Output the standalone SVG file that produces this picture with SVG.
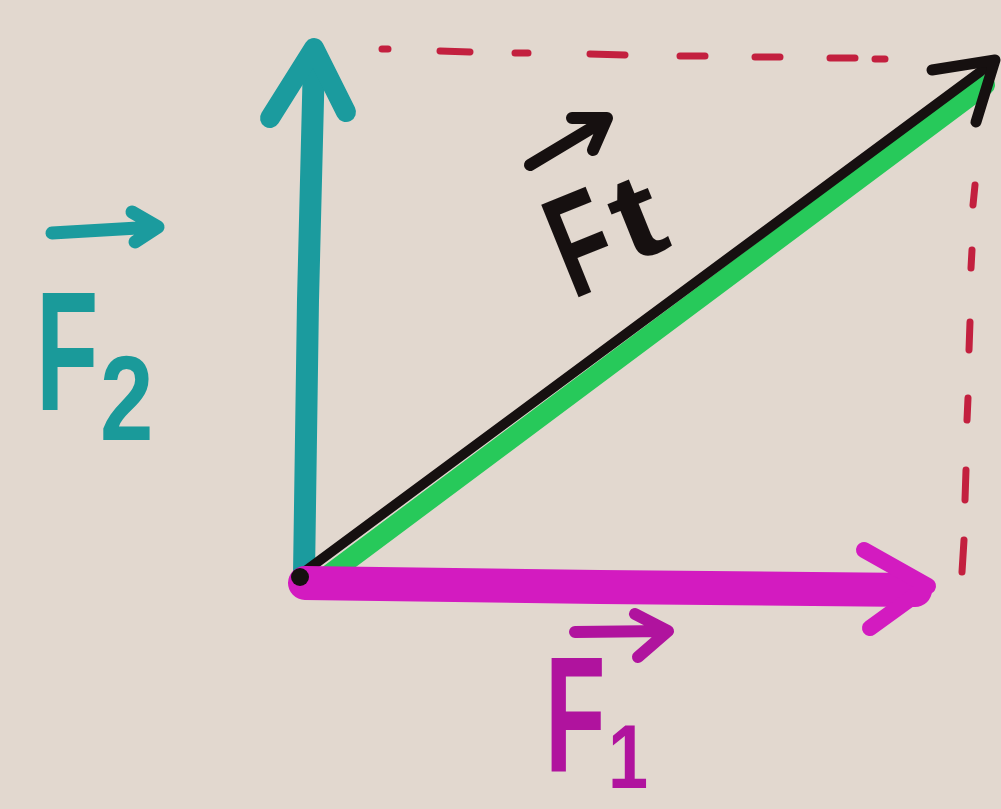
<svg xmlns="http://www.w3.org/2000/svg" width="1001" height="809" viewBox="0 0 1001 809">
<defs>
<style>
.teal{stroke:#1b9b9e;fill:none;stroke-linecap:round;stroke-linejoin:round}
.mag{stroke:#d31bc0;fill:none;stroke-linecap:round;stroke-linejoin:round}
.blk{stroke:#161010;fill:none;stroke-linecap:round;stroke-linejoin:round}
.grn{stroke:#27c95a;fill:none;stroke-linecap:round}
.dash{stroke:#c3203f;fill:none;stroke-width:7;stroke-linecap:round}
.lbl{font-family:"Liberation Sans",sans-serif;font-weight:bold}
</style>
</defs>
<rect width="1001" height="809" fill="#e2d8cf"/>
<g id="connectors">
<g id="dashes">
<path class="dash" d="M382 49 L388 49 M440 51 L470 52 M515 53 L528 53 M590 54 L625 55 M680 56 L705 56 M755 57 L780 57 M830 58 L855 58 M875 59 L885 59"/>
<path class="dash" d="M975 185 L973 205 M972 250 L971 268 M970 322 L969 350 M968 398 L967 420 M966 470 L965 500 M964 540 L962 572"/>
</g>
<g id="F2-vector">
<path class="teal" stroke-width="22" d="M304 575 L308 300 L314 60"/>
<path class="teal" stroke-width="20" d="M270 118 L314 48 L346 112"/>
</g>
<g id="Ft-vector">
<path class="grn" stroke-width="20" d="M315 585 L985 85"/>
<path class="blk" stroke-width="10" d="M300 575 L992 63"/>
<path class="blk" stroke-width="11" d="M932 70 L995 60 L976 122"/>
</g>
<g id="F1-vector">
<path class="mag" stroke-width="34" d="M305 583 L600 587 L915 590"/>
<path class="mag" stroke-width="16" d="M864 550 L928 586 L870 628"/>
<circle cx="300" cy="577" r="9" fill="#161010"/>
</g>
</g>
<g id="label-F2" fill="#1a9a9a">
<path class="teal" stroke-width="13" d="M52 233 L155 227 M132 212 L158 227 L135 242"/>
<text class="lbl" transform="translate(36 410) scale(0.6 1)" font-size="170">F</text>
<text class="lbl" transform="translate(100 440) scale(0.8 1)" font-size="120">2</text>
</g>
<g id="label-Ft" fill="#161010">
<path class="blk" stroke-width="12" d="M530 165 L605 120 M572 118 L607 118 L593 150"/>
<g transform="rotate(-22 590 230)">
<text class="lbl" transform="translate(548 288) scale(0.65 1)" font-size="145">F</text>
<text class="lbl" transform="translate(614 276) scale(1.2 1)" font-size="120">t</text>
</g>
</g>
<g id="label-F1" fill="#b0139e">
<path stroke="#b0139e" fill="none" stroke-width="12" stroke-linecap="round" stroke-linejoin="round" d="M575 632 L665 631 M635 614 L668 631 L638 657"/>
<text class="lbl" transform="translate(545 772) scale(0.6 1)" font-size="165">F</text>
<text class="lbl" transform="translate(608 788) scale(0.8 1)" font-size="90">1</text>
</g>
</svg>
